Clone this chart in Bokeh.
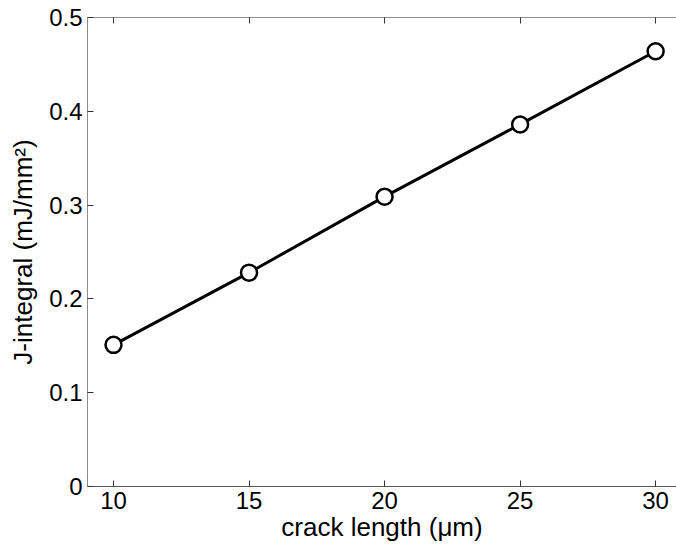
from bokeh.plotting import figure
from bokeh.models import LinearAxis, FixedTicker, CustomJSTickFormatter, Range1d
from bokeh.embed import file_html
from bokeh.resources import INLINE

crack_length = [10, 15, 20, 25, 30]
j_integral = [0.151, 0.228, 0.309, 0.386, 0.464]
x_ticks = [10, 15, 20, 25, 30]
y_ticks = [0, 0.1, 0.2, 0.3, 0.4, 0.5]

FONT = "Liberation Sans"
FS = 24      # tick labels
LFS = 26     # axis titles
W, H = 676, 544

p = figure(width=W, height=H, output_backend="svg", toolbar_location=None,
           x_range=Range1d(9.04, 30.77), y_range=Range1d(0, 0.5),
           x_axis_location=None, y_axis_location=None,
           min_border_left=87, min_border_right=0, min_border_top=17, min_border_bottom=57)
p.outline_line_color = None
p.grid.visible = False
p.background_fill_color = "white"
p.border_fill_color = "white"

fmt = CustomJSTickFormatter(code="return String(tick);")
blank = CustomJSTickFormatter(code="return '';")

def style(ax, color):
    ax.axis_line_color = color
    ax.axis_line_width = 1
    ax.major_tick_line_color = "#333333"
    ax.major_tick_in = 6
    ax.major_tick_out = 0
    ax.minor_tick_line_color = None
    ax.major_label_text_font = FONT
    ax.major_label_text_font_size = f"{FS}px"
    ax.major_label_text_color = "black"
    ax.axis_label_text_font = FONT
    ax.axis_label_text_font_size = f"{LFS}px"
    ax.axis_label_text_font_style = "normal"
    ax.axis_label_text_color = "black"

xb = LinearAxis(ticker=FixedTicker(ticks=x_ticks), formatter=fmt)
style(xb, "#555555")
xb.major_label_standoff = 5
xb.axis_label = "crack length (\u03bcm)"
xb.axis_label_standoff = 0
p.add_layout(xb, "below")

xt = LinearAxis(ticker=FixedTicker(ticks=x_ticks), formatter=blank)
style(xt, "#8c8c8c")
xt.major_label_standoff = 0
p.add_layout(xt, "above")

yl = LinearAxis(ticker=FixedTicker(ticks=y_ticks), formatter=fmt)
style(yl, "#8c8c8c")
yl.major_label_standoff = 5
yl.axis_label = "J-integral (mJ/mm\u00b2)"
yl.axis_label_standoff = 8
p.add_layout(yl, "left")

p.line(crack_length, j_integral, line_color="black", line_width=3)
p.scatter(crack_length, j_integral, size=16, marker="circle", fill_color="white",
          line_color="black", line_width=2.5)

open("out.html", "w").write(file_html(p, INLINE))
